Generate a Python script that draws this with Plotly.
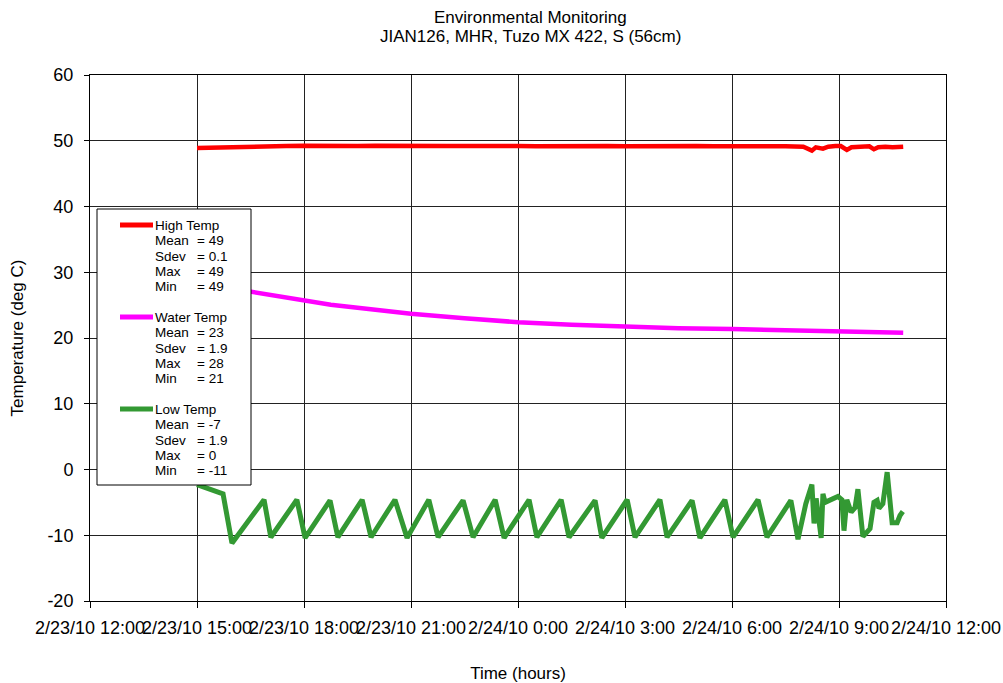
import pandas as pd
import plotly.graph_objects as go

# ---------------- data ----------------
START = pd.Timestamp("2010-02-23 12:00")

high_hours = [3.0, 3.6, 4.0, 4.5, 5.0, 5.5, 6.0, 6.5, 7.0, 7.5,
              8.0, 8.5, 9.0, 9.5, 10.0, 10.5, 11.0, 11.5, 12.0, 12.5,
              13.0, 13.5, 14.0, 14.5, 15.0, 15.5, 16.0, 16.5, 17.0, 17.5,
              18.0, 18.5, 19.0, 19.5, 20.0, 20.24, 20.35, 20.55, 20.7, 20.9,
              21.05, 21.22, 21.35, 21.6, 21.85, 21.98, 22.1, 22.3, 22.5, 22.8]
high_temp = [48.9, 49.0, 49.1, 49.2, 49.15, 49.2, 49.25, 49.2, 49.15, 49.2,
             49.25, 49.2, 49.2, 49.15, 49.2, 49.2, 49.25, 49.2, 49.2, 49.15,
             49.2, 49.25, 49.2, 49.2, 49.15, 49.2, 49.2, 49.25, 49.2, 49.15,
             49.2, 49.2, 49.15, 49.15, 49.1, 48.5, 49.0, 48.8, 49.1, 49.2,
             49.2, 48.6, 49.0, 49.1, 49.15, 48.7, 49.0, 49.1, 49.0, 49.1]

water_hours = [3.0, 3.5, 4.0, 4.5, 5.0, 5.5, 6.0, 6.75, 7.5, 8.25, 9.0,
               10.5, 12.0, 13.5, 15.0, 16.5, 18.0, 19.5, 21.0, 22.0, 22.8]
water_temp = [28.4, 27.95, 27.5, 27.1, 26.6, 26.1, 25.6, 25.05, 24.6, 24.1, 23.7,
              23.0, 22.4, 22.0, 21.7, 21.5, 21.35, 21.15, 21.0, 20.9, 20.8]

low_hours = [3.00, 3.73, 3.98,
             4.88, 5.07, 5.80, 6.03, 6.73, 6.95, 7.63, 7.88,
             8.55, 8.89, 9.50, 9.76, 10.46, 10.74, 11.36, 11.61,
             12.31, 12.53, 13.21, 13.43, 14.16, 14.35, 15.06, 15.28,
             15.98, 16.18, 16.88, 17.10, 17.80, 18.03, 18.73, 18.98,
             19.65, 19.85,
             20.07, 20.24, 20.30, 20.36, 20.50, 20.55, 20.61, 20.97, 21.08, 21.14,
             21.22, 21.34, 21.45, 21.53, 21.67, 21.87, 21.98, 22.07, 22.12, 22.23,
             22.35, 22.49, 22.63, 22.71, 22.79]
low_temp = [-2.3, -3.7, -11.2,
            -4.6, -10.3, -4.6, -10.4, -4.7, -10.3, -4.6, -10.3,
            -4.6, -10.4, -4.6, -10.3, -4.7, -10.3, -4.6, -10.4,
            -4.6, -10.3, -4.6, -10.3, -4.7, -10.4, -4.6, -10.3,
            -4.6, -10.3, -4.7, -10.4, -4.6, -10.3, -4.6, -10.3,
            -4.7, -10.6,
            -5.2, -2.3, -8.2, -4.4, -10.4, -3.7, -5.0, -4.1, -4.6, -9.3,
            -4.6, -6.5, -5.8, -3.0, -10.2, -9.0, -5.0, -4.7, -5.9, -5.2,
            -0.4, -8.1, -8.1, -7.0, -6.4]

series_names = ["High Temp", "Water Temp", "Low Temp"]
series_colors = ["#FF0000", "#FF00FF", "#339933"]
series_widths = [4.5, 4.5, 5]
stat_labels = ["Mean", "Sdev", "Max", "Min"]
high_stats = ["49", "0.1", "49", "49"]
water_stats = ["23", "1.9", "28", "21"]
low_stats = ["-7", "1.9", "0", "-11"]

title_lines = ["Environmental Monitoring", "JIAN126, MHR, Tuzo MX 422, S (56cm)"]
x_title = "Time (hours)"
y_title = "Temperature (deg C)"
x_range_hours = [0, 24]
x_tick_step_hours = 3
y_range = [-20, 60]
y_tick_values = [-20, -10, 0, 10, 20, 30, 40, 50, 60]
y_tick_labels = ["-20", "-10", "0", "10", "20", "30", "40", "50", "60"]


def to_time(hours):
    return [START + pd.Timedelta(hours=h) for h in hours]


# ---------------- figure ----------------
FONT = "Arial, Liberation Sans, sans-serif"
fig = go.Figure()
series_x = [high_hours, water_hours, low_hours]
series_y = [high_temp, water_temp, low_temp]
for name, color, lw, xs, ys in zip(series_names, series_colors, series_widths, series_x, series_y):
    fig.add_trace(go.Scatter(x=to_time(xs), y=ys, mode="lines", name=name,
                             line=dict(color=color, width=lw), showlegend=False))

# plot-area pixel geometry
L, R, T, B = 90, 946, 75, 601
W, H = 1003, 683


def px_x(x):
    return (x - L) / (R - L)


def px_y(y):
    return (B - y) / (B - T)


shapes = [dict(type="rect", xref="paper", yref="paper",
               x0=px_x(97), x1=px_x(251), y0=px_y(485), y1=px_y(209),
               line=dict(color="black", width=1), fillcolor="white", layer="above")]
annotations = []

# title lines
for line, ty in zip(title_lines, [17, 37]):
    annotations.append(dict(xref="paper", yref="paper", x=px_x(530), y=px_y(ty),
                            text=line, showarrow=False, xanchor="center", yanchor="middle",
                            font=dict(family=FONT, size=17, color="black")))

# custom legend
block_y = [225, 317, 409]
row_dy = [15.5, 31, 46, 61.3]
all_stats = [high_stats, water_stats, low_stats]
for name, color, by, stats in zip(series_names, series_colors, block_y, all_stats):
    shapes.append(dict(type="line", xref="paper", yref="paper",
                       x0=px_x(120), x1=px_x(153), y0=px_y(by), y1=px_y(by),
                       line=dict(color=color, width=5), layer="above"))
    annotations.append(dict(xref="paper", yref="paper", x=px_x(153), y=px_y(by),
                            text=name, showarrow=False, xanchor="left", yanchor="middle",
                            font=dict(family=FONT, size=13.5, color="black")))
    for lab, val, dy in zip(stat_labels, stats, row_dy):
        annotations.append(dict(xref="paper", yref="paper", x=px_x(153), y=px_y(by + dy),
                                text=lab, showarrow=False, xanchor="left", yanchor="middle",
                                font=dict(family=FONT, size=13.5, color="black")))
        annotations.append(dict(xref="paper", yref="paper", x=px_x(195), y=px_y(by + dy),
                                text="= " + val, showarrow=False, xanchor="left", yanchor="middle",
                                font=dict(family=FONT, size=13.5, color="black")))

fig.update_layout(
    width=W, height=H,
    margin=dict(l=L, r=W - R, t=T, b=H - B, autoexpand=False),
    paper_bgcolor="white", plot_bgcolor="white",
    font=dict(family=FONT, size=17, color="black"),
    shapes=shapes, annotations=annotations,
    showlegend=False,
)
fig.update_xaxes(
    type="date",
    range=to_time(x_range_hours),
    tick0=START, dtick=x_tick_step_hours * 3600 * 1000,
    tickformat="%-m/%-d/%y %-H:%M", tickangle=0,
    showgrid=True, gridcolor="#222", gridwidth=1,
    showline=True, linecolor="black", linewidth=1, mirror=True,
    ticks="outside", ticklen=6, tickcolor="black",
    ticklabelstandoff=4,
    tickfont=dict(family=FONT, size=18, color="black"),
    title=dict(text=x_title, standoff=34, font=dict(family=FONT, size=17, color="black")),
    automargin=False,
)
fig.update_yaxes(
    range=y_range, tickmode="array", tickvals=y_tick_values, ticktext=y_tick_labels,
    showgrid=True, gridcolor="#222", gridwidth=1, zeroline=False,
    showline=True, linecolor="black", linewidth=1, mirror=True,
    ticks="outside", ticklen=5, tickcolor="black",
    ticklabelstandoff=7,
    tickfont=dict(family=FONT, size=18, color="black"),
    title=dict(text=y_title, standoff=19, font=dict(family=FONT, size=17, color="black")),
    automargin=False,
)

fig.write_html("out.html", config={"displayModeBar": False},
               post_script="document.body.style.margin='0';")
